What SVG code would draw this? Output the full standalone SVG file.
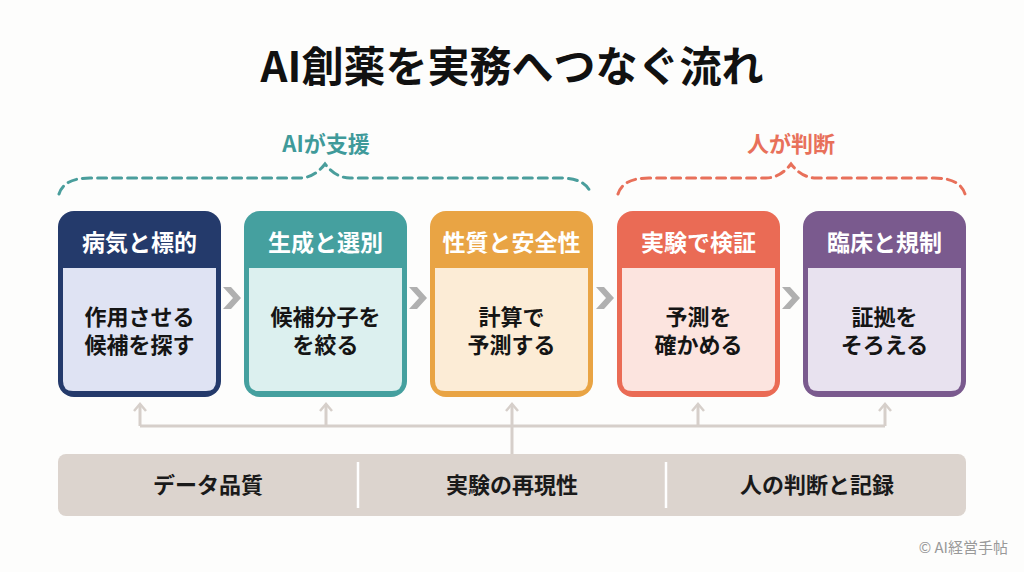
<svg xmlns="http://www.w3.org/2000/svg" width="1024" height="572" viewBox="0 0 1024 572">
<defs>
<style>
text{font-family:"Noto Sans CJK JP","Noto Sans",sans-serif;font-weight:700;text-anchor:middle}
.title{font-size:42px;fill:#111}
.hd{font-size:23px;fill:#fff}
.bd{font-size:22px;fill:#151515}
.lbl{font-size:22px}
.bar{font-size:22px;fill:#1a1a1a}
.brace{fill:none;stroke-width:3;stroke-dasharray:9 6;stroke-linecap:round}
.chev{fill:#b0b0b0}
.conn{fill:none;stroke:#d6cfca;stroke-width:3}
.head{fill:none;stroke:#d6cfca;stroke-width:2.5}
.copy{font-size:15px;font-weight:400;fill:#999;text-anchor:end}
</style>
</defs>
<rect width="1024" height="572" fill="#fdfdfc"/>
<text class="title" x="512" y="82">AI創薬を実務へつなぐ流れ</text>

<g id="brace-ai">
<text class="lbl" x="326" y="152" fill="#3f9a9a">AIが支援</text>
<path class="brace" stroke="#4a9e9c" d="M59 194 Q64 178 90 178 L300 178 Q314 178 325 164 Q336 178 350 178 L560 178 Q586 178 591 194"/>
</g>
<g id="brace-human">
<text class="lbl" x="791" y="152" fill="#e8705a">人が判断</text>
<path class="brace" stroke="#e8705a" d="M618 194 Q623 178 649 178 L766 178 Q780 178 791 164 Q802 178 816 178 L934 178 Q960 178 965 194"/>
</g>

<g id="node1">
<rect x="58" y="211" width="163" height="186" rx="16" fill="#243a6b"/>
<path d="M63 268 H216 V381 Q216 391 206 391 H73 Q63 391 63 381 Z" fill="#dfe3f3"/>
<text class="hd" x="139.5" y="251">病気と標的</text>
<text class="bd" x="139.5" y="325">作用させる</text>
<text class="bd" x="139.5" y="353">候補を探す</text>
</g>
<g id="node2">
<rect x="244" y="211" width="163" height="186" rx="16" fill="#45a09f"/>
<path d="M249 268 H402 V381 Q402 391 392 391 H259 Q249 391 249 381 Z" fill="#dcf0ef"/>
<text class="hd" x="325.5" y="251">生成と選別</text>
<text class="bd" x="325.5" y="325">候補分子を</text>
<text class="bd" x="325.5" y="353">を絞る</text>
</g>
<g id="node3">
<rect x="430" y="211" width="163" height="186" rx="16" fill="#e9a444"/>
<path d="M435 268 H588 V381 Q588 391 578 391 H445 Q435 391 435 381 Z" fill="#fcecd6"/>
<text class="hd" x="511.5" y="251">性質と安全性</text>
<text class="bd" x="511.5" y="325">計算で</text>
<text class="bd" x="511.5" y="353">予測する</text>
</g>
<g id="node4">
<rect x="617" y="211" width="163" height="186" rx="16" fill="#ea6b55"/>
<path d="M622 268 H775 V381 Q775 391 765 391 H632 Q622 391 622 381 Z" fill="#fce4df"/>
<text class="hd" x="698.5" y="251">実験で検証</text>
<text class="bd" x="698.5" y="325">予測を</text>
<text class="bd" x="698.5" y="353">確かめる</text>
</g>
<g id="node5">
<rect x="803" y="211" width="163" height="186" rx="16" fill="#7a5a8e"/>
<path d="M808 268 H961 V381 Q961 391 951 391 H818 Q808 391 808 381 Z" fill="#e8e2ef"/>
<text class="hd" x="884.5" y="251">臨床と規制</text>
<text class="bd" x="884.5" y="325">証拠を</text>
<text class="bd" x="884.5" y="353">そろえる</text>
</g>

<g id="connectors">
<polygon class="chev" points="223,287 231,287 241,298 231,309 223,309 233,298"/>
<polygon class="chev" points="409,287 417,287 427,298 417,309 409,309 419,298"/>
<polygon class="chev" points="596,287 604,287 614,298 604,309 596,309 606,298"/>
<polygon class="chev" points="782,287 790,287 800,298 790,309 782,309 792,298"/>
<path class="conn" d="M140 426 H885"/>
<path class="conn" d="M140 426 V404"/>
<path class="conn" d="M326 426 V404"/>
<path class="conn" d="M512 455 V404"/>
<path class="conn" d="M698 426 V404"/>
<path class="conn" d="M885 426 V404"/>
<path class="head" d="M134 411 L140 404 L146 411"/>
<path class="head" d="M320 411 L326 404 L332 411"/>
<path class="head" d="M506 411 L512 404 L518 411"/>
<path class="head" d="M692 411 L698 404 L704 411"/>
<path class="head" d="M879 411 L885 404 L891 411"/>
</g>

<g id="foundation">
<rect x="58" y="454" width="908" height="62" rx="8" fill="#dcd4ce"/>
<line x1="358" y1="462" x2="358" y2="508" stroke="#fff" stroke-width="2.5"/>
<line x1="666" y1="462" x2="666" y2="508" stroke="#fff" stroke-width="2.5"/>
<text class="bar" x="208" y="493">データ品質</text>
<text class="bar" x="512" y="493">実験の再現性</text>
<text class="bar" x="817" y="493">人の判断と記録</text>
</g>
<text class="copy" x="1008" y="553">© AI経営手帖</text>
</svg>
